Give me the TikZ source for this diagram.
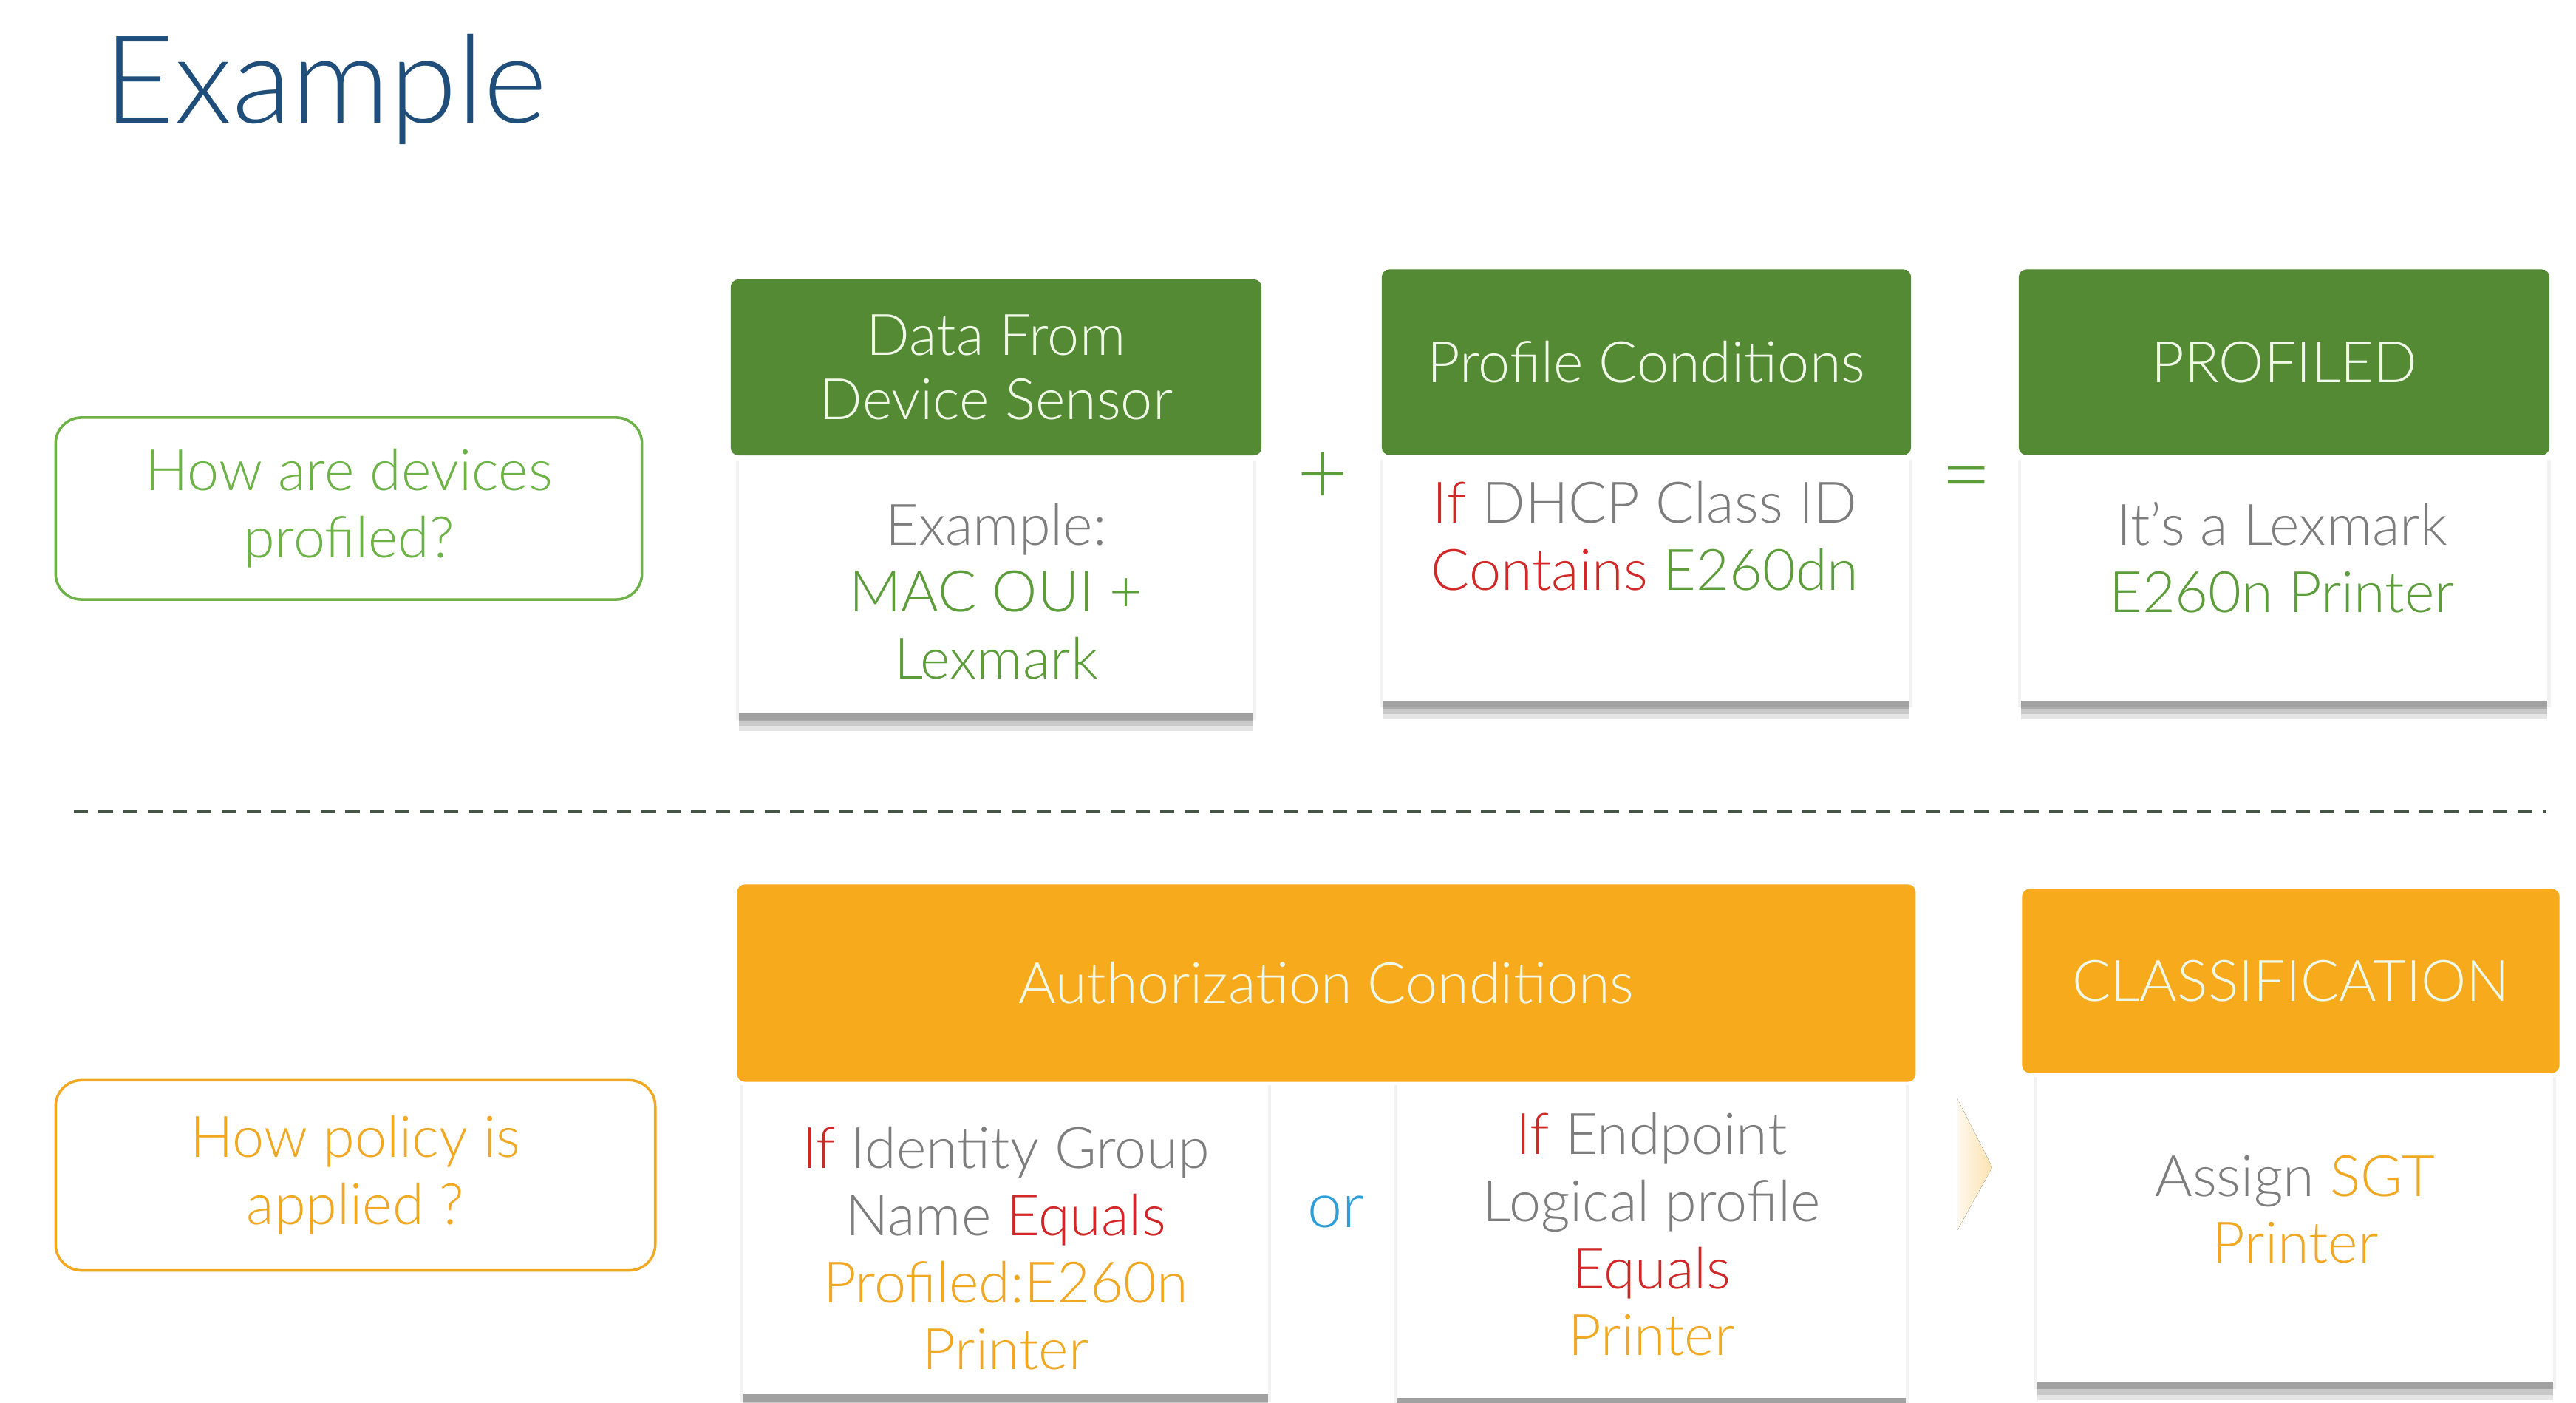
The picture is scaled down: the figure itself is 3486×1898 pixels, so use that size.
\documentclass[tikz,border=0pt]{standalone}
\usepackage{fontspec}
\IfFontExistsTF{Lato Light}{\setmainfont{Lato Light}}{\setmainfont{Lato}}
\usetikzlibrary{positioning,shadows}

\definecolor{titleblue}{RGB}{30,78,121}
\definecolor{hdgreen}{RGB}{84,138,52}
\definecolor{txgreen}{RGB}{92,156,58}
\definecolor{qgreen}{RGB}{108,178,70}
\definecolor{hdorange}{RGB}{246,170,28}
\definecolor{txorange}{RGB}{240,168,35}
\definecolor{txred}{RGB}{208,40,40}
\definecolor{txgrey}{RGB}{125,125,125}
\definecolor{orblue}{RGB}{45,158,216}
\definecolor{dashgrey}{RGB}{70,85,70}
\definecolor{hdtext}{RGB}{240,248,232}

\newcommand{\rd}[1]{\textcolor{txred}{#1}}
\newcommand{\gn}[1]{\textcolor{txgreen}{#1}}
\newcommand{\og}[1]{\textcolor{txorange}{#1}}

\begin{document}
\begin{tikzpicture}[x=0.01cm, y=-0.01cm,
  head/.style = {rounded corners=3pt, align=center, text=hdtext, font=\fontsize{22}{24.5}\selectfont},
  greenhead/.style = {head, fill=hdgreen},
  orangehead/.style = {head, fill=hdorange},
  softshadow/.style = {
    general shadow={fill=black, opacity=0.05, shadow xshift=0pt, shadow yshift=-2pt, shadow scale=1.012},
    general shadow={fill=black, opacity=0.10, shadow xshift=0pt, shadow yshift=-7pt},
    general shadow={fill=black, opacity=0.12, shadow xshift=0pt, shadow yshift=-5pt},
    general shadow={fill=black, opacity=0.15, shadow xshift=0pt, shadow yshift=-3pt}},
  body/.style = {fill=white, anchor=north, softshadow},
  ask/.style = {draw, line width=1pt, rounded corners=0.35cm, align=center, fill=white, font=\fontsize{22}{25.8}\selectfont},
  txt/.style = {align=center, inner sep=0pt, text=txgrey, font=\fontsize{22}{25.8}\selectfont},
  sign/.style = {inner sep=0pt, font=\fontsize{34}{34}\selectfont}]
\path[use as bounding box, fill=white] (0,0) rectangle (3486,1898);

\node[anchor=base west, inner sep=0pt, text=titleblue, font=\fontsize{47}{50}\selectfont] (title) at (140,167) {Example};

% profiling
\node[ask, draw=qgreen, text=qgreen, minimum width=7.93cm, minimum height=2.46cm] (q1) at (472,688) {How are devices\\profiled?};
\node[greenhead, minimum width=7.18cm, minimum height=2.38cm] (h1) at (1348,497) {Data From\\Device Sensor};
\node[body, minimum width=6.96cm, minimum height=3.47cm, below=0pt of h1] (b1) {};
\node[txt] (t1) at (1348,800) {Example:\\\gn{MAC OUI +}\\\gn{Lexmark}};
\node[sign, text=txgreen] (plus) at (1790,647) {+};
\node[greenhead, minimum width=7.16cm, minimum height=2.51cm] (h2) at (2228,490) {Profile Conditions};
\node[body, minimum width=7.11cm, minimum height=3.31cm, below=0pt of h2] (b2) {};
\node[txt] (t2) at (2226,725) {\rd{If} DHCP Class ID\\\rd{Contains} \gn{E260dn}};
\node[sign, text=txgreen] (eq) at (2661,658) {=};
\node[greenhead, minimum width=7.18cm, minimum height=2.51cm] (h3) at (3091,490) {PROFILED};
\node[body, minimum width=7.12cm, minimum height=3.31cm, below=0pt of h3] (b3) {};
\node[txt] (t3) at (3088,754) {It’s a Lexmark\\\gn{E260n Printer}};

\coordinate (dl) at (100,1098);
\coordinate (dr) at (3446,1098);
\draw[dashgrey, line width=1.1pt, dash pattern=on 5.5pt off 4pt] (dl) -- (dr);

% policy
\node[ask, draw=txorange, text=txorange, minimum width=8.11cm, minimum height=2.57cm] (q2) at (481,1590) {How policy is\\applied ?};
\node[orangehead, minimum width=15.94cm, minimum height=2.67cm] (h4) at (1795,1330) {Authorization Conditions};
\node[body, minimum width=7.09cm, minimum height=4.22cm] (b4) at (1361,1463) {};
\node[txt] (t4) at (1361,1689) {\rd{If} Identity Group\\Name \rd{Equals}\\\og{Profiled:E260n}\\\og{Printer}};
\node[inner sep=0pt, text=orblue, font=\fontsize{24}{24}\selectfont] (or) at (1808,1639) {or};
\node[body, minimum width=6.87cm, minimum height=4.27cm] (b5) at (2235,1463) {};
\node[txt] (t5) at (2235,1670) {\rd{If} Endpoint\\Logical profile\\\rd{Equals}\\\og{Printer}};
\fill[left color=hdorange!8, right color=hdorange!35] (2649,1487) -- (2696,1579) -- (2649,1664) -- cycle;
\node[orangehead, minimum width=7.27cm, minimum height=2.49cm] (h5) at (3100,1327) {CLASSIFICATION};
\node[body, minimum width=6.98cm, minimum height=4.16cm] (b6) at (3106,1452) {};
\node[txt] (t6) at (3106,1636) {Assign \og{SGT}\\\og{Printer}};
\end{tikzpicture}
\end{document}
